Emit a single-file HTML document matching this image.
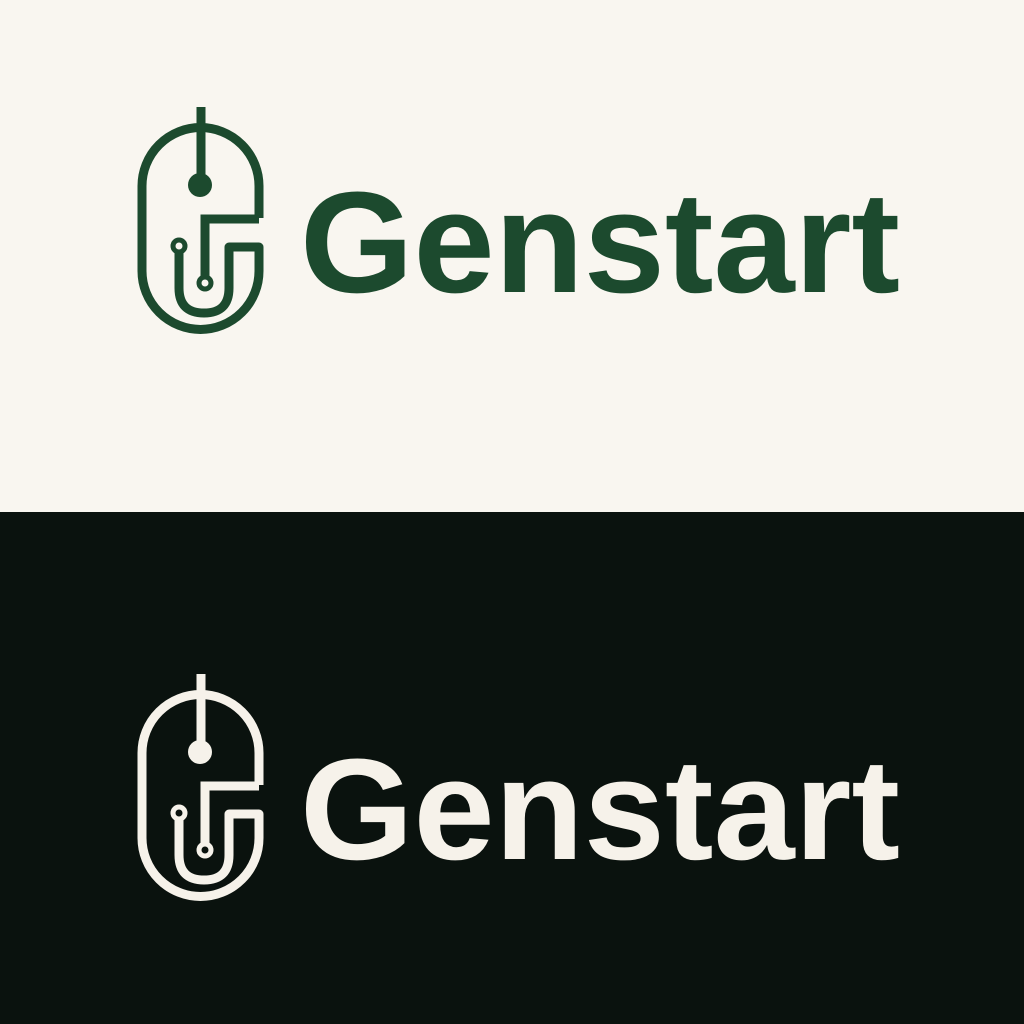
<!DOCTYPE html>
<html><head><meta charset="utf-8"><style>
html,body{margin:0;padding:0;width:1024px;height:1024px;overflow:hidden}
svg{display:block}
</style></head><body>
<svg width="1024" height="1024" viewBox="0 0 1024 1024">
<defs>
<g id="icon">
<path d="M259,218 V186 A58,58 0 0 0 142,186 V271 A58,58 0 0 0 259,271 V247 H229 V288 Q229,313 204,313 Q179,313 179,288 V253" fill="none" stroke-width="9" stroke-linejoin="round"/>
<path d="M201,107 V180" fill="none" stroke-width="9"/>
<circle cx="200" cy="185" r="12" stroke="none"/>
<path d="M259,219 H205 V276" fill="none" stroke-width="9"/>
<circle cx="205" cy="283" r="6" fill="none" stroke-width="5"/>
<circle cx="179" cy="246" r="6" fill="none" stroke-width="5"/>
</g>
</defs>
<rect x="0" y="0" width="1024" height="512" fill="#f9f6f0"/>
<rect x="0" y="512" width="1024" height="512" fill="#0a120e"/>
<g fill="#1c4a2e" stroke="#1c4a2e"><use href="#icon"/></g>
<text x="300" y="292" textLength="600" lengthAdjust="spacingAndGlyphs" font-family="Liberation Sans, sans-serif" font-weight="bold" font-size="144" fill="#1c4a2e">Genstart</text>
<g fill="#f6f2ea" stroke="#f6f2ea" transform="translate(0,567)"><use href="#icon"/></g>
<text x="300" y="859" textLength="600" lengthAdjust="spacingAndGlyphs" font-family="Liberation Sans, sans-serif" font-weight="bold" font-size="144" fill="#f6f2ea">Genstart</text>
</svg>
</body></html>
